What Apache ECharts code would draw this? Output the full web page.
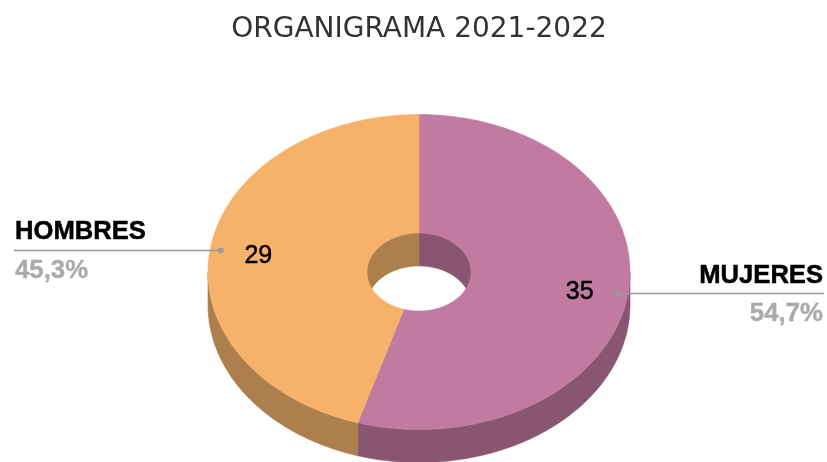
<!DOCTYPE html>
<html>
<head>
<meta charset="utf-8">
<style>html,body{margin:0;padding:0;background:#fff}#c{width:827px;height:462px}</style>
<script src="https://cdn.jsdelivr.net/npm/echarts@6/dist/echarts.min.js"></script>
</head>
<body>
<div id="c"></div>
<script>
const titleText = 'ORGANIGRAMA 2021-2022';
const categories = ['MUJERES', 'HOMBRES'];
const values = [35, 29];
const topColors = ['#C27BA0', '#F6B26B'];
const wallColors = ['#885670', '#AC7F4C'];

const cx = 419, cy = 272, rx = 211, ry = 157.5, hx = 52, hy = 39, depth = 33;
const total = values.reduce((a, b) => a + b, 0);
const RAD = Math.PI / 180;

function pt(a, x, y, dy) {
  return [cx + x * Math.sin(a * RAD), cy - y * Math.cos(a * RAD) + (dy || 0)];
}
function arc(a0, a1, x, y, dy) {
  const pts = [], n = Math.max(2, Math.ceil(Math.abs(a1 - a0)));
  for (let i = 0; i <= n; i++) pts.push(pt(a0 + (a1 - a0) * i / n, x, y, dy));
  return pts;
}
function poly(points, fill, z2) {
  return { type: 'polygon', z2, shape: { points },
    style: { fill, stroke: fill, lineWidth: 0.6 } };
}
function overlap(a0, a1, b0, b1) {
  const s = Math.max(a0, b0), e = Math.min(a1, b1);
  return e > s ? [s, e] : null;
}

function renderItem(params, api) {
  const i = params.dataIndex;
  const before = values.slice(0, i).reduce((a, b) => a + b, 0);
  const a0 = before / total * 360, a1 = (before + api.value(0)) / total * 360;
  const mid = (a0 + a1) / 2;
  const children = [];

  // outer side wall (front half)
  const w = overlap(a0, a1, 90, 270);
  if (w) children.push(poly(arc(w[0], w[1], rx, ry).concat(arc(w[1], w[0], rx, ry, depth)), wallColors[i], 1));

  // inner wall of the hole (back half)
  [[0, 90], [270, 360]].forEach(b => {
    const v = overlap(a0, a1, b[0], b[1]);
    if (v) children.push(poly(arc(v[0], v[1], hx, hy).concat(arc(v[1], v[0], hx, hy, depth)), wallColors[i], 1));
  });

  // top face goes over all
  children.push(poly(arc(a0, a1, rx, ry).concat(arc(a1, a0, hx, hy)), topColors[i], 2));

  // value label
  const vp = pt(mid, rx * 0.77, ry * 0.77);
  children.push({ type: 'text', z2: 5, style: { text: String(api.value(0)), x: vp[0], y: vp[1] + 2,
    textAlign: 'center', textVerticalAlign: 'middle', fill: '#000', stroke: '#000', lineWidth: 0.5,
    font: '25px "Liberation Sans", Arial, sans-serif' } });

  // leader and outside labels
  const dp = pt(mid, rx * 0.95, ry * 0.95);
  const right = mid < 180;
  const endX = right ? 824 : 14;
  const ly = Math.round(dp[1]) - (right ? 1 : 0) + 0.5;
  children.push({ type: 'line', z2: 4, shape: { x1: dp[0], y1: ly, x2: endX, y2: ly },
    style: { stroke: '#999999', lineWidth: 1.5 } });
  children.push({ type: 'circle', z2: 4, shape: { cx: dp[0], cy: ly, r: 3 },
    style: { fill: '#999999' } });
  const textX = right ? 823 : 15;
  const align = right ? 'right' : 'left';
  children.push({ type: 'text', z2: 5, style: { text: categories[i], x: textX, y: ly - 19 + (right ? 1 : 0),
    textAlign: align, textVerticalAlign: 'middle', fill: '#000', stroke: '#000', lineWidth: 0.5,
    font: 'bold 25.6px "Liberation Sans", Arial, sans-serif' } });
  const pct = (api.value(0) / total * 100).toFixed(1).replace('.', ',') + '%';
  children.push({ type: 'text', z2: 5, style: { text: pct, x: textX, y: ly + 20,
    textAlign: align, textVerticalAlign: 'middle', fill: '#ABABAB', stroke: '#ABABAB', lineWidth: 0.4,
    font: 'bold 25.8px "Liberation Sans", Arial, sans-serif' } });

  return { type: 'group', children };
}

const chart = echarts.init(document.getElementById('c'), null, { renderer: 'canvas' });
chart.setOption({
  animation: false,
  backgroundColor: '#ffffff',
  title: { text: titleText, left: 419, textAlign: 'center', top: 11,
    textStyle: { fontFamily: '"DejaVu Sans"', fontWeight: 'normal', fontSize: 28, color: '#2f3336' } },
  series: [{ type: 'custom', coordinateSystem: 'none', silent: true, clip: false,
    renderItem, data: values }]
});
chart.setOption({ title: { left: 414 } });
</script>
</body>
</html>
